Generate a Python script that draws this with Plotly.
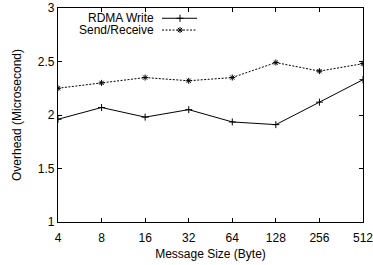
import plotly.graph_objects as go

sizes = [4, 8, 16, 32, 64, 128, 256, 512]
tick_labels = ["4", "8", "16", "32", "64", "128", "256", "512"]
rdma_write = [1.96, 2.07, 1.98, 2.05, 1.935, 1.91, 2.12, 2.33]
send_receive = [2.25, 2.30, 2.35, 2.32, 2.35, 2.49, 2.41, 2.48]
series_names = ["RDMA Write", "Send/Receive"]
yticks = [1, 1.5, 2, 2.5, 3]

font = "Liberation Sans, Arial, sans-serif"
dash = "2px,1.5px"

fig = go.Figure()
fig.add_trace(go.Scatter(x=sizes, y=rdma_write, mode="lines+markers", name=series_names[0],
                         line=dict(color="black", width=1),
                         marker=dict(symbol="cross-thin", size=5, color="black",
                                     line=dict(color="black", width=1)),
                         showlegend=False))
fig.add_trace(go.Scatter(x=sizes, y=send_receive, mode="lines+markers", name=series_names[1],
                         line=dict(color="black", width=1, dash=dash),
                         marker=dict(symbol="asterisk-open", size=5, color="black",
                                     line=dict(color="black", width=1)),
                         showlegend=False))

# legend samples on an overlay axis (0..1 of plot area)
row_y = [0.952, 0.897]
seg = [0.341, 0.456]
mk = 0.40
fig.add_trace(go.Scatter(x=seg, y=[row_y[0]] * 2, xaxis="x2", yaxis="y2",
                         mode="lines", line=dict(color="black", width=1), showlegend=False,
                         hoverinfo="skip"))
fig.add_trace(go.Scatter(x=[mk], y=[row_y[0]], xaxis="x2", yaxis="y2",
                         mode="markers", marker=dict(symbol="cross-thin", size=5, color="black",
                                                     line=dict(color="black", width=1)),
                         showlegend=False, hoverinfo="skip"))
fig.add_trace(go.Scatter(x=seg, y=[row_y[1]] * 2, xaxis="x2", yaxis="y2",
                         mode="lines", line=dict(color="black", width=1, dash=dash),
                         showlegend=False, hoverinfo="skip"))
fig.add_trace(go.Scatter(x=[mk], y=[row_y[1]], xaxis="x2", yaxis="y2",
                         mode="markers", marker=dict(symbol="asterisk-open", size=5, color="black",
                                                     line=dict(color="black", width=1)),
                         showlegend=False, hoverinfo="skip"))

for name, yy in zip(series_names, row_y):
    fig.add_annotation(x=0.318, y=yy, xref="x2", yref="y2", text=name,
                       showarrow=False, xanchor="right", yanchor="middle", borderpad=0,
                       font=dict(family=font, size=12, color="black"))

fig.update_layout(
    width=373, height=265,
    margin=dict(l=58, r=10, t=8, b=43),
    paper_bgcolor="white", plot_bgcolor="white",
    font=dict(family=font, size=12, color="black"),
    xaxis=dict(type="log", range=[0.60206, 2.70927], tickvals=sizes, ticktext=tick_labels,
               ticks="inside", ticklen=4, tickwidth=1, tickcolor="black",
               showline=True, linecolor="black", linewidth=1.2, mirror="ticks",
               showgrid=False, zeroline=False, automargin=False, ticklabeloverflow="allow",
               ticklabelstandoff=4,
               title=dict(text="Message Size (Byte)", font=dict(size=12), standoff=6),
               tickfont=dict(size=12)),
    yaxis=dict(range=[1, 3], tickvals=yticks, ticktext=["1", "1.5", "2", "2.5", "3"],
               ticks="inside", ticklen=4, tickwidth=1, tickcolor="black",
               showline=True, linecolor="black", linewidth=1.2, mirror="ticks",
               showgrid=False, zeroline=False, automargin=False, ticklabeloverflow="allow",
               title=dict(text="Overhead (Microsecond)", font=dict(size=12), standoff=13),
               tickfont=dict(size=12)),
    xaxis2=dict(range=[0, 1], overlaying="x", visible=False),
    yaxis2=dict(range=[0, 1], overlaying="y", visible=False),
)

fig.write_html("out.html", config={"displayModeBar": False},
               post_script="document.body.style.margin='0';document.body.style.overflow='hidden';")
